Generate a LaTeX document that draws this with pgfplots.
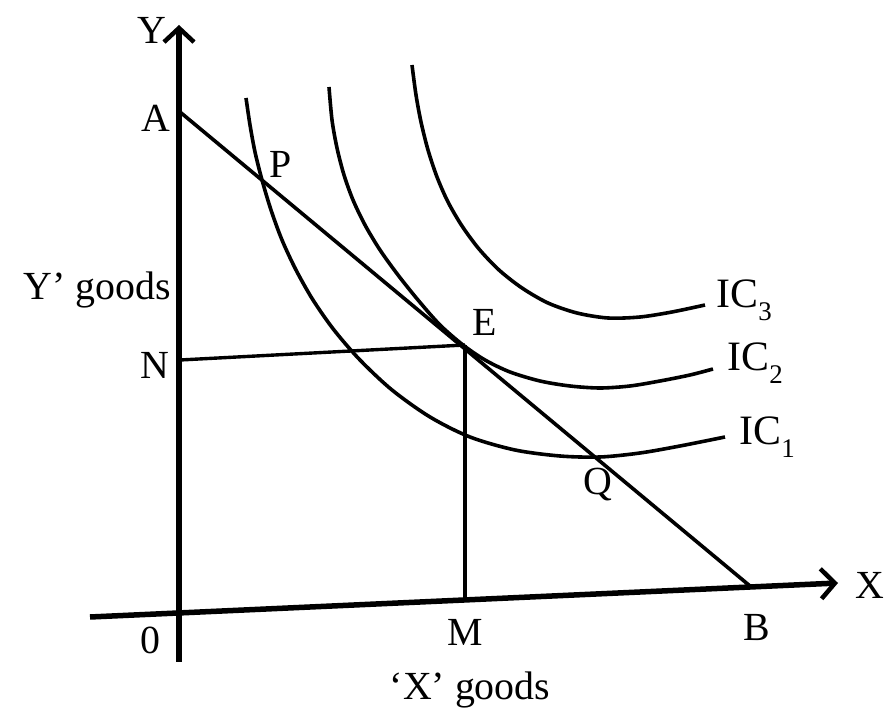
\documentclass[border=0pt]{standalone}
\usepackage{pgfplots}
\pgfplotsset{compat=1.18}
\usepackage{fontspec}
\setmainfont{Liberation Serif}
\usetikzlibrary{arrows.meta}
\newcommand{\lbl}{\fontsize{40}{42}\selectfont}
\newcommand{\ic}[1]{\fontsize{42}{44}\selectfont IC\raisebox{-0.32em}{\fontsize{27}{27}\selectfont #1}}
\begin{document}
\begin{tikzpicture}
\begin{axis}[
  scale only axis, width=891bp, height=713bp,
  xmin=0, xmax=891, ymin=0, ymax=713,
  hide axis, clip=false,
  every axis plot/.append style={no marks, black},
]
\path (rel axis cs:0,0) rectangle (rel axis cs:1,1);
% axes
\addplot[line width=5.5bp, -{Straight Barb[length=14bp,width=30bp,line width=4.5bp]}] coordinates {(179,51) (179,688)};
\addplot[line width=5.5bp, -{Straight Barb[length=14bp,width=30bp,line width=4.5bp]}] coordinates {(90,96) (838,130)};
% budget line AB
\addplot[line width=3.6bp] coordinates {(180,601) (750,127)};
% N-E and E-M
\addplot[line width=3.4bp] coordinates {(180,353) (465,368)};
\addplot[line width=3.4bp] coordinates {(465,368) (465,113)};
% IC1
\addplot[line width=3.6bp, smooth, tension=0.5] coordinates {
(246,615) (250,588) (255,561) (262,533) (271,503) (282,473) (296,443) (313,413)
(334,383) (360,353) (392,323) (430,296) (470,276) (515,263) (560,257) (600,256)
(640,260) (680,267) (725,276)};
% IC2
\addplot[line width=3.6bp, smooth, tension=0.5] coordinates {
(329,626) (332,593) (337,565) (344,538) (353,513) (365,488) (380,463) (398,438)
(418,413) (440,388) (463,368) (485,353) (510,341) (540,332) (570,327) (600,325)
(630,327) (660,332) (690,338) (713,344)};
% IC3
\addplot[line width=3.6bp, smooth, tension=0.5] coordinates {
(412,648) (416,618) (421,591) (428,563) (437,536) (448,511) (462,487) (479,464)
(499,443) (522,425) (548,410) (577,400) (608,395) (640,396) (672,401) (705,408)};
% labels
\node[font=\lbl] at (axis cs:152,683) {Y};
\node[font=\lbl] at (axis cs:156,595) {A};
\node[font=\lbl] at (axis cs:281,549) {P};
\node[font=\lbl] at (axis cs:97,423) {Y’ goods};
\node[font=\lbl] at (axis cs:155,348) {N};
\node[font=\lbl] at (axis cs:485,391) {E};
\node[font=\lbl] at (axis cs:598,228) {Q};
\node[anchor=west] at (axis cs:713,413) {\ic{3}};
\node[anchor=west] at (axis cs:724,350) {\ic{2}};
\node[anchor=west] at (axis cs:736,276) {\ic{1}};
\node[font=\lbl] at (axis cs:150,73) {0};
\node[font=\lbl] at (axis cs:465,81) {M};
\node[font=\lbl] at (axis cs:757,85) {B};
\node[font=\lbl] at (axis cs:870,128) {X};
\node[font=\lbl] at (axis cs:470,23) {‘X’ goods};
\end{axis}
\end{tikzpicture}
\end{document}
